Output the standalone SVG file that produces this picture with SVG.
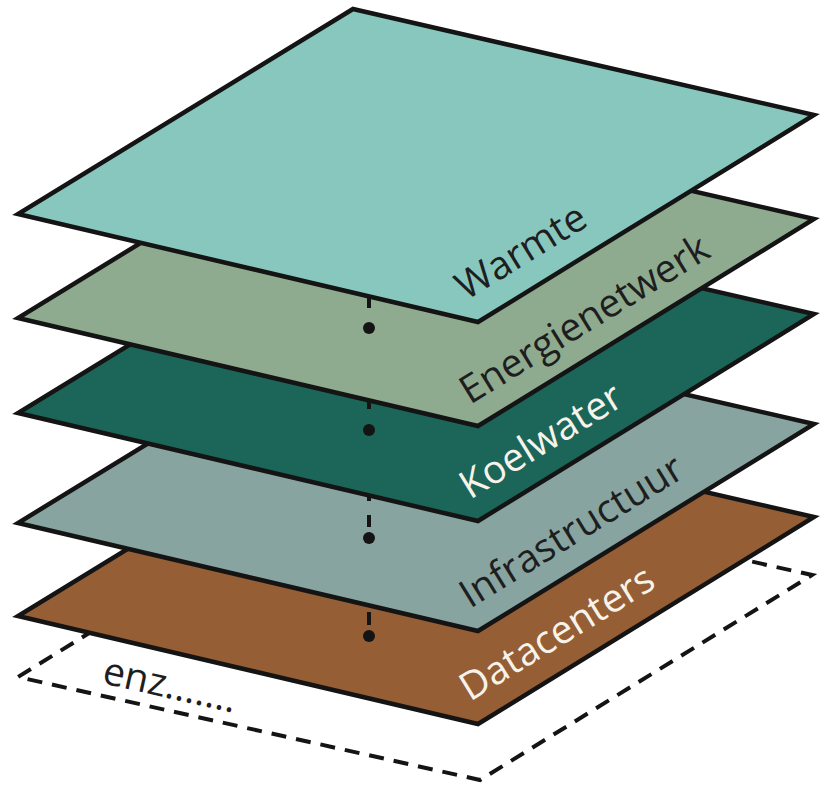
<svg xmlns="http://www.w3.org/2000/svg" width="820" height="794" viewBox="0 0 820 794">
<style>
.layer{stroke:#141414;stroke-width:4.5;stroke-linejoin:miter}
.lbl{font-family:"Open Sans","Liberation Sans",sans-serif;font-size:39px}
.dark{fill:#1e1e1e}
.light{fill:#f7f3ea}
.dash{stroke:#141414;stroke-width:4;fill:none}
.dot{fill:#141414}
</style>
<g id="enz">
<path d="M350,472 L18,677 L480,780 L812,575 Z" fill="none" stroke="#141414" stroke-width="4" stroke-dasharray="15 10"/>
<text class="lbl dark" font-size="36" transform="translate(101,683) rotate(12.6)">enz.......</text>
</g>
<g id="datacenters">
<polygon class="layer" fill="#955E35" points="353,411 814,517 478,724 18,616"/>
<text class="lbl light" transform="translate(470,702) rotate(-31.6)">Datacenters</text>
</g>
<g id="infrastructuur">
<polygon class="layer" fill="#87A4A0" points="353,318 814,424 478,631 18,523"/>
<text class="lbl dark" transform="translate(470,609) rotate(-31.6)">Infrastructuur</text>
</g>
<g id="koelwater">
<polygon class="layer" fill="#1B6658" points="353,208 814,314 478,521 18,413"/>
<text class="lbl light" transform="translate(470,500) rotate(-31.6)">Koelwater</text>
</g>
<g id="energienetwerk">
<polygon class="layer" fill="#8FAB8F" points="353,113 814,219 478,426 18,318"/>
<text class="lbl dark" transform="translate(470,405) rotate(-31.6)">Energienetwerk</text>
</g>
<g id="warmte">
<polygon class="layer" fill="#88C7BE" points="353,9 814,115 478,322 18,214"/>
<text class="lbl dark" transform="translate(466,301) rotate(-31.6)">Warmte</text>
</g>
<g id="connectors">
<line class="dash" x1="369" y1="296" x2="369" y2="308"/>
<circle class="dot" cx="369" cy="328" r="6"/>
<line class="dash" x1="369" y1="399" x2="369" y2="409"/>
<circle class="dot" cx="369" cy="430" r="6"/>
<line class="dash" x1="369" y1="495" x2="369" y2="501"/>
<line class="dash" x1="369" y1="515" x2="369" y2="527"/>
<circle class="dot" cx="369" cy="538" r="6"/>
<line class="dash" x1="369" y1="612" x2="369" y2="625"/>
<circle class="dot" cx="369" cy="636" r="6"/>
</g>
</svg>
